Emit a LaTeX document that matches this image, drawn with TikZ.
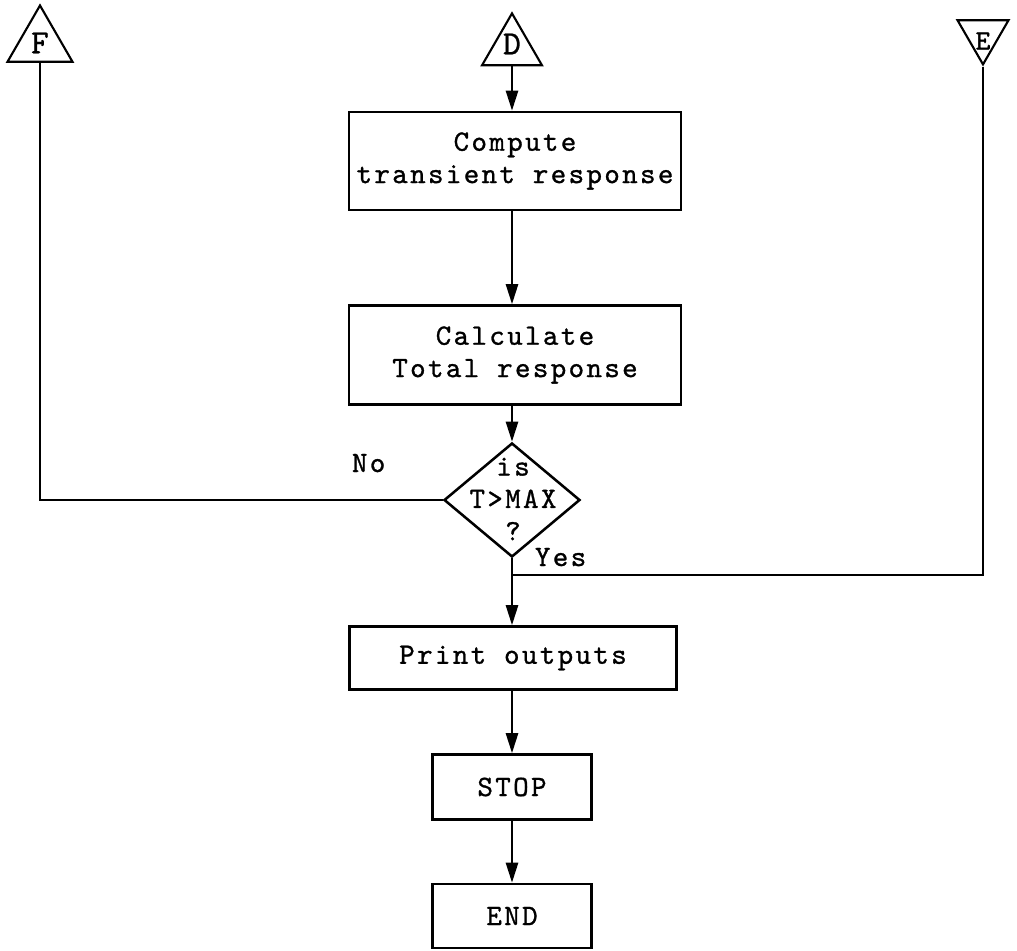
\documentclass[tikz,border=0pt]{standalone}
\usepackage{fontspec}
\usetikzlibrary{arrows.meta, positioning, shapes.geometric, calc}

\newfontfamily\flowtt{lmmono10-regular.otf}[LetterSpace=8, FakeBold=1]
\newcommand{\flowfont}{\flowtt\fontsize{21}{23}\selectfont}

\begin{document}
\begin{tikzpicture}[
    x=0.025cm, y=-0.025cm,
    font=\flowfont,
    proc/.style={draw, line width=1.8pt, align=center, inner sep=0pt},
    decision/.style={draw, diamond, line width=1.8pt, inner sep=0pt,
                  minimum width=3.4cm, minimum height=2.85cm},
    conn/.style={draw, regular polygon, regular polygon sides=3,
                  line width=1.5pt, inner sep=0pt},
    letter/.style={font=\flowtt\fontsize{24}{24}\selectfont},
    arr/.style={-{Triangle[length=5mm, width=3mm]}, line width=1.8pt},
    ln/.style={line width=1.8pt}
]
\useasboundingbox (0,0) rectangle (1017,951);

% --- Off-page connectors: F (left), D (top), E (right, upside down).
\node[conn, minimum size=1.875cm,
      label={[letter]center:F}]                      (F) at (40,43)  {};
\node[conn, minimum size=1.73cm,
      label={[letter, yshift=0.1cm]center:D}]         (D) at (512,48) {};
\node[conn, minimum size=1.47cm, shape border rotate=180,
      label={[letter, font=\flowtt\fontsize{20}{20}\selectfont,
              yshift=-0.15cm]center:E}]               (E) at (983,35) {};

% --- Main column of boxes.
\node[proc, minimum width=8.3cm, minimum height=2.45cm]
      (comp)  at (515,161) {Compute\\transient response};
\node[proc, minimum width=8.3cm, minimum height=2.475cm]
      (calc)  at (515,355) {Calculate\\Total response};
\node[decision] (test) at (512,500) {};
\node[align=center] (testtxt) at (513,499) {is\\T>MAX\\?};
\node[proc, minimum width=8.175cm, minimum height=1.575cm]
      (print) at (513,658) {Print outputs};
\node[proc, minimum width=3.975cm, minimum height=1.625cm]
      (stop)  at (512,787) {STOP};
\node[proc, minimum width=3.975cm, minimum height=1.6cm]
      (end)   at (512,916) {END};

\node[anchor=base west] (nolbl)  at (347,472) {No};
\node[anchor=base west] (yeslbl) at (530,566) {Yes};

\coordinate (yesjoin) at (512,575);

% --- Flow down the column.
\draw[arr] (D.south)    -- (D.south |- comp.north);
\draw[arr] (comp.south -| D.south) -- (calc.north -| D.south);
\draw[arr] (calc.south -| D.south) -- (test.north);
\draw[arr] (test.south) -- (print.north -| test.south);
\draw[arr] (print.south -| stop.north) -- (stop.north);
\draw[arr] (stop.south) -- (end.north);

% --- Branches: No goes back to F, E comes in on the Yes line.
\draw[ln] (test.west) -| (F.south);
\draw[ln] (E.south) |- (yesjoin);

\end{tikzpicture}
\end{document}
